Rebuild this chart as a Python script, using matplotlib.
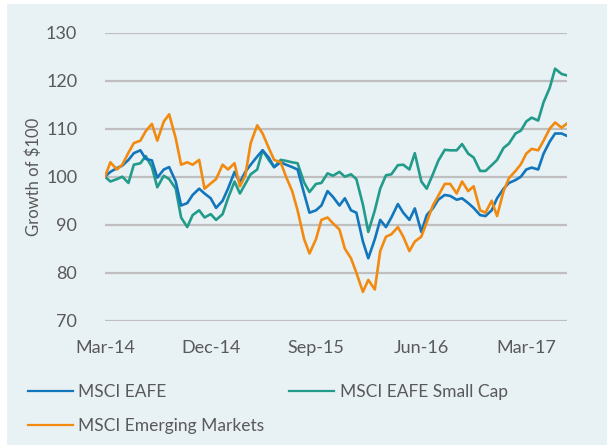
import numpy as np
import pandas as pd
import matplotlib
matplotlib.use("Agg")
import matplotlib.pyplot as plt
from matplotlib.lines import Line2D
from matplotlib.patches import Rectangle

# semi-monthly observations, Mar-14 .. Jun-17
dates = pd.date_range("2014-03-01", periods=80, freq="SMS")

eafe = [100, 101, 101.8, 102.3, 103.5, 104.9, 105.5, 103.7, 103.4, 99.8,
        101.5, 102, 99, 94, 94.5, 96.2, 97.5, 96.5, 95.5, 93.5,
        95, 97.5, 101, 98.8, 101, 102.5, 104.2, 105.5, 104, 102,
        103, 102.5, 102, 101.5, 96.5, 92.5, 93, 94, 97, 95.8,
        94, 95.5, 93, 92.5, 86.5, 83, 87, 91, 89.5, 91.5,
        94.3, 92.5, 91, 93.4, 88.5, 92, 93.4, 95.2, 96.2, 96,
        95.2, 95.5, 94.5, 93.5, 92, 91.8, 93, 95.5, 97.5, 98.7,
        99.3, 100, 101.5, 101.9, 101.5, 104.8, 107.3, 109, 109, 108.5]

small_cap = [100, 99, 99.5, 100, 98.7, 102.5, 102.8, 104.3, 102, 97.8,
             100.2, 99.5, 97.5, 91.5, 89.5, 92, 93, 91.5, 92.2, 91,
             92.2, 95.5, 99, 96.5, 98.5, 100.5, 101.5, 105.5, 103.5, 102,
             103.5, 103.3, 103, 102.8, 98.8, 96.8, 98.5, 98.7, 100.7, 100.2,
             101, 100, 100.5, 99.5, 94.2, 88.5, 93, 97.5, 100.3, 100.5,
             102.4, 102.5, 101.5, 104.9, 99, 97.5, 100.5, 103.3, 105.6, 105.5,
             105.5, 106.8, 104.8, 104, 101.2, 101.2, 102.4, 103.5, 106, 106.9,
             109, 109.6, 111.5, 112.3, 111.7, 115.5, 118.5, 122.5, 121.4, 121.1]

emerging = [100, 103, 101.5, 102.5, 105, 107, 107.5, 109.5, 111, 107.5,
            111.5, 113, 108, 102.5, 103, 102.5, 103.5, 97.5, 98.6, 99.5,
            102.5, 101.5, 102.8, 98, 100.2, 107, 110.7, 109, 106, 103.5,
            103, 100, 97, 93, 87, 84, 87, 91, 91.5, 90.3,
            89, 85, 83, 80, 76, 78.5, 76.5, 84.5, 87.5, 88,
            89.5, 87.5, 84.5, 86.5, 87.5, 90.5, 94, 96, 98.5, 98.5,
            96.5, 99, 97, 98, 93, 92.5, 95, 91.8, 97, 99.7,
            101.2, 102.6, 104.8, 105.8, 105.5, 107.5, 110, 111.3, 110.2, 111.1]

tick_dates = pd.to_datetime(["2014-03-01", "2014-12-01", "2015-09-01",
                             "2016-06-01", "2017-03-01"])
tick_labels = ["Mar-14", "Dec-14", "Sep-15", "Jun-16", "Mar-17"]
y_ticks = [70, 80, 90, 100, 110, 120, 130]

c_eafe = "#1276BC"
c_small = "#229B8A"
c_em = "#F28A10"
bg = "#E8F1F4"
txt = "#595959"

plt.rcParams["font.family"] = ["Lato", "DejaVu Sans"]

fig = plt.figure(figsize=(6.07, 4.46), dpi=100)
fig.patch.set_facecolor("white")
fig.patches.append(Rectangle((7 / 607, 1 / 446), 1 - 7 / 607, 1 - 5 / 446,
                             transform=fig.transFigure, facecolor=bg,
                             edgecolor="none", zorder=-10))

ax = fig.add_axes([105 / 607, 1 - 320.7 / 446, 462 / 607, 288 / 446])
ax.set_facecolor("none")

ax.plot(dates, eafe, color=c_eafe, lw=1.9, zorder=3)
ax.plot(dates, small_cap, color=c_small, lw=1.9, zorder=2)
ax.plot(dates, emerging, color=c_em, lw=1.9, zorder=4)

ax.set_xlim(dates[0], dates[-1])
ax.set_ylim(70, 130)
ax.set_yticks(y_ticks)
ax.set_xticks(tick_dates)
ax.set_xticklabels(tick_labels)
ax.grid(axis="y", color="#BFBFBF", lw=1.6, zorder=0)
ax.set_axisbelow(True)
for s in ax.spines.values():
    s.set_visible(False)
ax.tick_params(axis="both", length=0, labelsize=13, colors=txt)
ax.tick_params(axis="y", pad=20)
ax.tick_params(axis="x", pad=14)
ax.set_ylabel("Growth of $100", fontsize=12, color=txt, labelpad=3)

handles = [Line2D([], [], color=c_eafe, lw=1.6),
           Line2D([], [], color=c_em, lw=1.6),
           Line2D([], [], color=c_small, lw=1.6)]
labels = ["MSCI EAFE", "MSCI Emerging Markets", "MSCI EAFE Small Cap"]
leg = fig.legend(handles, labels, ncol=2, loc="upper left",
                 bbox_to_anchor=(12 / 607, 1 - 368 / 446), frameon=False,
                 fontsize=12.5, handlelength=2.6, handletextpad=0.3,
                 columnspacing=1.45, labelspacing=1.05)
for t in leg.get_texts():
    t.set_color(txt)

fig.savefig("out.png", dpi=100, facecolor=fig.get_facecolor())
